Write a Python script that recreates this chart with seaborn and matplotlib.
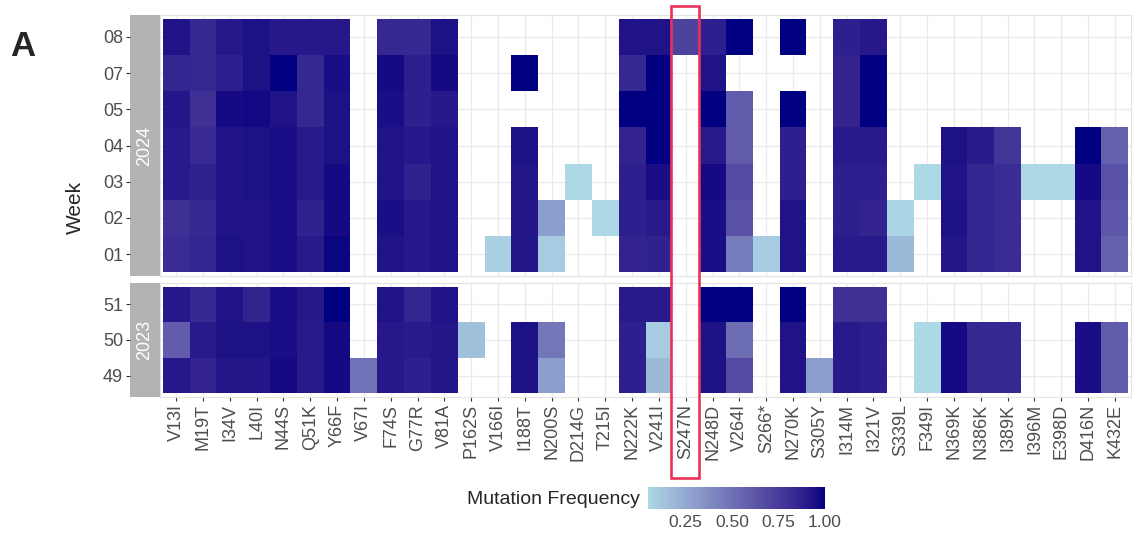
import numpy as np
import pandas as pd
import seaborn as sns
import matplotlib.pyplot as plt
import matplotlib.transforms as mtransforms
from matplotlib.colors import ListedColormap, to_rgb
from matplotlib.patches import Rectangle

sns.set_theme(style="white")
plt.rcParams["font.family"] = ["Liberation Sans", "DejaVu Sans"]

# ---------------------------------------------------------------------------
# Data: mutation frequency per week (NaN = mutation not observed)
# ---------------------------------------------------------------------------
nan = np.nan
mutations = ["V13I", "M19T", "I34V", "L40I", "N44S", "Q51K", "Y66F", "V67I",
             "F74S", "G77R", "V81A", "P162S", "V166I", "I188T", "N200S", "D214G",
             "T215I", "N222K", "V241I", "S247N", "N248D", "V264I", "S266*", "N270K",
             "S305Y", "I314M", "I321V", "S339L", "F349I", "N369K", "N386K", "I389K",
             "I396M", "E398D", "D416N", "K432E"]

weeks_2024 = ["08", "07", "05", "04", "03", "02", "01"]
weeks_2023 = ["51", "50", "49"]

w2024_08 = [.93, .84, .91, .94, .91, .91, .91, nan, .84, .84, .94, nan, nan, nan, nan, nan,
            nan, .93, .93, .72, .88, 1.0, nan, 1.0, nan, .88, .91, nan, nan, nan, nan, nan,
            nan, nan, nan, nan]
w2024_07 = [.85, .84, .88, .94, 1.0, .84, .95, nan, .96, .88, .96, nan, nan, 1.0, nan, nan,
            nan, .84, 1.0, nan, .93, nan, nan, nan, nan, .86, 1.0, nan, nan, nan, nan, nan,
            nan, nan, nan, nan]
w2024_05 = [.92, .80, .96, .97, .93, .84, .94, nan, .95, .88, .91, nan, nan, nan, nan, nan,
            nan, 1.0, 1.0, nan, 1.0, .60, nan, 1.0, nan, .86, 1.0, nan, nan, nan, nan, nan,
            nan, nan, nan, nan]
w2024_04 = [.90, .83, .93, .94, .95, .90, .94, nan, .93, .91, .93, nan, nan, .94, nan, nan,
            nan, .86, 1.0, nan, .90, .60, nan, .88, nan, .90, .90, nan, nan, .94, .90, .78,
            nan, nan, 1.0, .58]
w2024_03 = [.90, .87, .93, .94, .95, .90, .96, nan, .93, .87, .93, nan, nan, .92, nan, .05,
            nan, .88, .95, nan, .96, .68, nan, .88, nan, .88, .88, nan, .05, .93, .85, .82,
            .05, .05, .96, .65]
w2024_02 = [.80, .84, .93, .93, .95, .87, .96, nan, .95, .91, .93, nan, nan, .92, .30, nan,
            .05, .88, .90, nan, .95, .65, nan, .93, nan, .88, .86, .07, nan, .94, .85, .82,
            nan, nan, .93, .62]
w2024_01 = [.82, .85, .94, .93, .95, .90, .98, nan, .93, .91, .93, nan, .08, .92, .10, nan,
            nan, .86, .87, nan, .95, .45, .10, .93, nan, .90, .90, .18, nan, .92, .85, .82,
            nan, nan, .93, .58]

w2023_51 = [.91, .84, .93, .86, .95, .91, 1.0, nan, .93, .85, .93, nan, nan, nan, nan, nan,
            nan, .90, .90, nan, 1.0, 1.0, nan, 1.0, nan, .80, .80, nan, nan, nan, nan, nan,
            nan, nan, nan, nan]
w2023_50 = [.60, .90, .94, .94, .95, .90, .96, nan, .91, .90, .92, .15, nan, .94, .48, nan,
            nan, .88, .10, nan, .94, .52, nan, .93, nan, .90, .88, nan, .05, .96, .84, .84,
            nan, nan, .95, .60]
w2023_49 = [.91, .86, .92, .92, .96, .90, .96, .50, .91, .88, .92, nan, nan, .94, .30, nan,
            nan, .88, .18, nan, .94, .68, nan, .93, .30, .90, .88, nan, .05, .96, .84, .84,
            nan, nan, .95, .60]

highlight = "S247N"

df_2024 = pd.DataFrame([w2024_08, w2024_07, w2024_05, w2024_04, w2024_03, w2024_02, w2024_01],
                       index=weeks_2024, columns=mutations)
df_2023 = pd.DataFrame([w2023_51, w2023_50, w2023_49], index=weeks_2023, columns=mutations)


# ---------------------------------------------------------------------------
# Colour scale: lightblue -> navy, interpolated in CIELAB (like ggplot2)
# ---------------------------------------------------------------------------
M = np.array([[0.4124564, 0.3575761, 0.1804375],
              [0.2126729, 0.7151522, 0.0721750],
              [0.0193339, 0.1191920, 0.9503041]])
WHITE = np.array([0.95047, 1.0, 1.08883])


def hex_to_lab(h):
    rgb = np.array(to_rgb(h))
    lin = np.where(rgb <= 0.04045, rgb / 12.92, ((rgb + 0.055) / 1.055) ** 2.4)
    xyz = M @ lin / WHITE
    f = np.where(xyz > 0.008856, np.cbrt(xyz), 7.787 * xyz + 16 / 116)
    return np.array([116 * f[1] - 16, 500 * (f[0] - f[1]), 200 * (f[1] - f[2])])


def lab_to_rgb(lab):
    fy = (lab[:, 0] + 16) / 116
    fx = fy + lab[:, 1] / 500
    fz = fy - lab[:, 2] / 200
    f = np.stack([fx, fy, fz], axis=1)
    xyz = np.where(f ** 3 > 0.008856, f ** 3, (f - 16 / 116) / 7.787) * WHITE
    lin = np.clip(xyz @ np.linalg.inv(M).T, 0, None)
    rgb = np.where(lin <= 0.0031308, 12.92 * lin, 1.055 * lin ** (1 / 2.4) - 0.055)
    return np.clip(rgb, 0, 1)


t = np.linspace(0, 1, 256)[:, None]
lab_lo, lab_hi = hex_to_lab("#ADD8E6"), hex_to_lab("#000080")
cmap = ListedColormap(lab_to_rgb(lab_lo + t * (lab_hi - lab_lo)))

vmin = np.nanmin([df_2024.min().min(), df_2023.min().min()])
vmax = np.nanmax([df_2024.max().max(), df_2023.max().max()])

# ---------------------------------------------------------------------------
# Figure layout (pixel boxes -> figure fractions)
# ---------------------------------------------------------------------------
W, H = 1140, 533
fig = plt.figure(figsize=(W / 100, H / 100), dpi=100)


def box(x0, y0, x1, y1):
    return [x0 / W, 1 - y1 / H, (x1 - x0) / W, (y1 - y0) / H]


ax_top = fig.add_axes(box(160, 15, 1131, 276))
ax_bot = fig.add_axes(box(160, 283, 1131, 397))
st_top = fig.add_axes(box(130, 15, 160, 276))
st_bot = fig.add_axes(box(130, 283, 160, 397))
cax = fig.add_axes(box(648, 487, 825, 509))

ncol = len(mutations)
grid_col = "#ebebeb"
tick_col = "#4d4d4d"

for ax, st, df, year in [(ax_top, st_top, df_2024, "2024"), (ax_bot, st_bot, df_2023, "2023")]:
    nrow = len(df)
    ax.set_axisbelow(True)
    sns.heatmap(df, ax=ax, cmap=cmap, vmin=vmin, vmax=vmax, cbar=False)
    ax.grid(True, color=grid_col, lw=1)
    ax.set_xlim(-0.1, ncol + 0.1)
    ax.set_ylim(nrow + 0.1, -0.1)
    ax.set_xticks(np.arange(ncol) + 0.5)
    ax.set_yticks(np.arange(nrow) + 0.5)
    ax.tick_params(axis="y", left=False, labelleft=False)
    ax.set_xlabel("")
    ax.set_ylabel("")
    for s in ax.spines.values():
        s.set_visible(True)
        s.set_color("#e3e3e3")
        s.set_linewidth(0.8)

    # facet strip on the left, carrying the week labels
    st.set_facecolor("#b3b3b3")
    for s in st.spines.values():
        s.set_visible(False)
    st.set_xlim(0, 1)
    st.set_ylim(nrow + 0.1, -0.1)
    st.set_xticks([])
    st.set_yticks(np.arange(nrow) + 0.5)
    st.set_yticklabels(df.index)
    st.tick_params(axis="y", left=True, length=3, width=0.8, color="#333333",
                   labelsize=13, labelcolor=tick_col, pad=2)
    st.text(0.5, nrow / 2, year, rotation=90, ha="center", va="center",
            color="white", fontsize=13)

ax_top.tick_params(axis="x", bottom=False, labelbottom=False)
ax_bot.set_xticklabels(mutations, rotation=90)
ax_bot.tick_params(axis="x", bottom=True, length=3, width=0.8, color="#333333",
                   labelsize=13, labelcolor=tick_col, pad=2)

# axis title and panel tag
fig.text(75 / W, 1 - 207 / H, "Week", rotation=90, ha="center", va="center", fontsize=15)
fig.text(23 / W, 1 - 47 / H, "A", ha="center", va="center", fontsize=25, weight="bold")

# colour bar
cb = fig.colorbar(ax_top.collections[0], cax=cax, orientation="horizontal")
cb.outline.set_visible(False)
cb.set_ticks([0.25, 0.50, 0.75, 1.00])
cb.set_ticklabels(["0.25", "0.50", "0.75", "1.00"])
cax.tick_params(axis="x", direction="in", length=4.5, width=0.8, color="white",
                top=True, labelsize=12.5, labelcolor=tick_col, pad=4)
fig.text(640 / W, 1 - 499 / H, "Mutation Frequency", ha="right", va="center", fontsize=14)

# highlight box around one mutation column
col = mutations.index(highlight)
trans = mtransforms.blended_transform_factory(ax_top.transData, fig.transFigure)
fig.add_artist(Rectangle((col - 0.06, 1 - 478 / H), 1.06, (478 - 6) / H, transform=trans,
                         fill=False, edgecolor="#e8325a", lw=1.9, clip_on=False))

fig.savefig("out.png", dpi=100)
